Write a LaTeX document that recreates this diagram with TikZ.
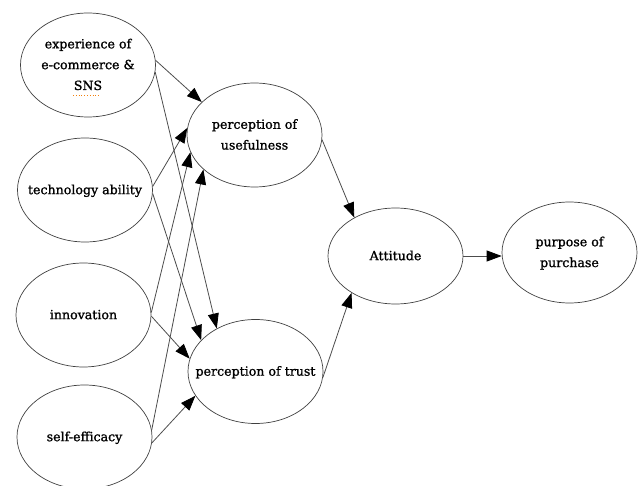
\documentclass[tikz,border=0pt]{standalone}
\usepackage{fontspec}
\setmainfont{DejaVu Serif}
\newfontfamily\ovfont{DejaVu Serif}[BoldFont=DejaVu Serif,BoldFeatures={FakeBold=1.2}]
\usetikzlibrary{shapes.geometric,arrows.meta,calc}
\newcommand\ovtext[1]{\makebox[0pt]{\renewcommand\arraystretch{1.3}\begin{tabular}{@{}c@{}}#1\end{tabular}}}
\begin{document}
\begin{tikzpicture}[x=1pt,y=-1pt,
  ov/.style={ellipse,draw=black!75,line width=0.7pt,inner sep=0pt,
    minimum width=135pt,minimum height=104pt,
    font=\ovfont\bfseries\fontsize{12.6}{16}\selectfont},
  conn/.style={draw=black!70,line width=0.8pt,
    -{Triangle[length=15pt,width=11pt,color=black]}}]
\useasboundingbox (0,0) rectangle (643,486);
\node[ov] (e1) at (88,65) {\ovtext{experience of\\e-commerce \&\\SNS}};
\node[ov] (e2) at (85,190) {\ovtext{technology ability}};
\node[ov] (e3) at (83.5,315) {\ovtext{innovation}};
\node[ov] (e4) at (84.5,437) {\ovtext{self-efficacy}};
\node[ov] (pu) at (254.5,135) {\ovtext{perception of\\usefulness}};
\node[ov] (pt) at (255.5,371.5) {\ovtext{perception of trust}};
\node[ov,minimum height=96pt] (att) at (395.5,256) {\ovtext{Attitude}};
\node[ov,minimum height=101pt] (pur) at (569.5,252.5) {\ovtext{purpose of\\purchase}};
\draw[orange!80!brown,dotted,line width=0.8pt] (73,95) -- (100,95);
\draw[conn] (e1.4) -- (pu.148);
\draw[conn] (e1.-6) -- (pt.132);
\draw[conn] (e2.3) -- (pu.174);
\draw[conn] (e2.-3) -- (pt.150);
\draw[conn] (e3.2.5) -- (pu.-165);
\draw[conn] (e3.-1) -- (pt.169);
\draw[conn] (e4.6) -- (pu.-146);
\draw[conn] (e4.-5) -- (pt.-158);
\draw[conn] (pu.-4) -- (att.137);
\draw[conn] (pt.-5) -- (att.-140);
\draw[conn] (att.east) -- (att.east -| pur.west);
\end{tikzpicture}
\end{document}
